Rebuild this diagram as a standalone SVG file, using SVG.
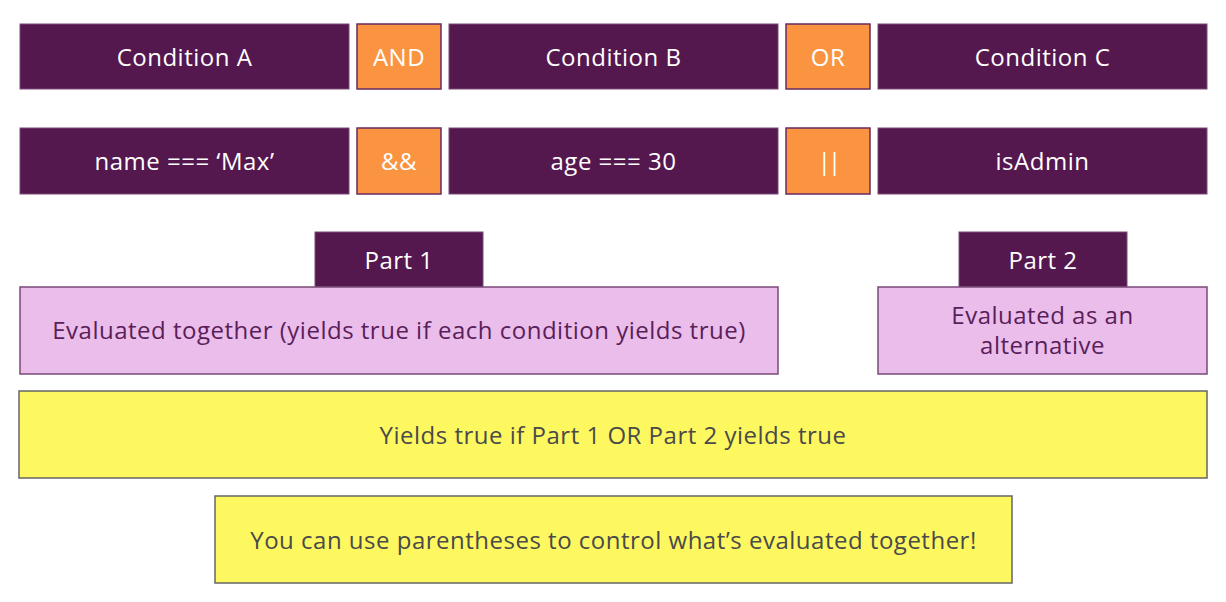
<svg xmlns="http://www.w3.org/2000/svg" width="1226" height="602" viewBox="0 0 1226 602">
<style>
text{font-family:"Open Sans","Noto Sans",sans-serif;font-size:24px;letter-spacing:0.5px;text-anchor:middle;dominant-baseline:central}
.p{fill:#54184f;stroke:#7a4a78;stroke-width:1}
.o{fill:#fa9441;stroke:#6a2a60;stroke-width:1.5}
.k{fill:#ebbdea;stroke:#7a4a78;stroke-width:1.5}
.y{fill:#fef860;stroke:#666;stroke-width:1.5}
.w{fill:#ffffff}
.d{fill:#5a1e5a}
.g{fill:#4a4a4a}
</style>
<rect width="1226" height="602" fill="#fff"/>
<g id="condA"><rect class="p" x="20" y="24" width="329" height="65"/><text class="w" x="184.5" y="56">Condition A</text></g>
<g id="and"><rect class="o" x="357" y="24" width="84" height="65"/><text class="w" x="399" y="56">AND</text></g>
<g id="condB"><rect class="p" x="449" y="24" width="329" height="65"/><text class="w" x="613.5" y="56">Condition B</text></g>
<g id="or"><rect class="o" x="786" y="24" width="84" height="65"/><text class="w" x="828" y="56">OR</text></g>
<g id="condC"><rect class="p" x="878" y="24" width="329" height="65"/><text class="w" x="1042.5" y="56">Condition C</text></g>
<g id="name"><rect class="p" x="20" y="128" width="329" height="66"/><text class="w" x="184.5" y="160">name === ‘Max’</text></g>
<g id="andop"><rect class="o" x="357" y="128" width="84" height="66"/><text class="w" x="399" y="160">&amp;&amp;</text></g>
<g id="age"><rect class="p" x="449" y="128" width="329" height="66"/><text class="w" x="613.5" y="160">age === 30</text></g>
<g id="orop"><rect class="o" x="786" y="128" width="84" height="66"/><text class="w" x="828" y="160" style="letter-spacing:-3px">||</text></g>
<g id="isAdmin"><rect class="p" x="878" y="128" width="329" height="66"/><text class="w" x="1042.5" y="160">isAdmin</text></g>
<g id="part1"><rect class="p" x="315" y="232" width="168" height="55"/><text class="w" x="399" y="259">Part 1</text></g>
<g id="part2"><rect class="p" x="959" y="232" width="168" height="55"/><text class="w" x="1043" y="259">Part 2</text></g>
<g id="eval1"><rect class="k" x="20" y="287" width="758" height="87"/><text class="d" x="399" y="329">Evaluated together (yields true if each condition yields true)</text></g>
<g id="eval2"><rect class="k" x="878" y="287" width="329" height="87"/><text class="d" x="1042.5" y="314">Evaluated as an</text><text class="d" x="1042.5" y="344">alternative</text></g>
<g id="yields"><rect class="y" x="19" y="391" width="1188" height="87"/><text class="g" x="613" y="434">Yields true if Part 1 OR Part 2 yields true</text></g>
<g id="paren"><rect class="y" x="215" y="496" width="797" height="87"/><text class="g" x="613.5" y="539">You can use parentheses to control what’s evaluated together!</text></g>
<g id="connectors"></g>
</svg>
